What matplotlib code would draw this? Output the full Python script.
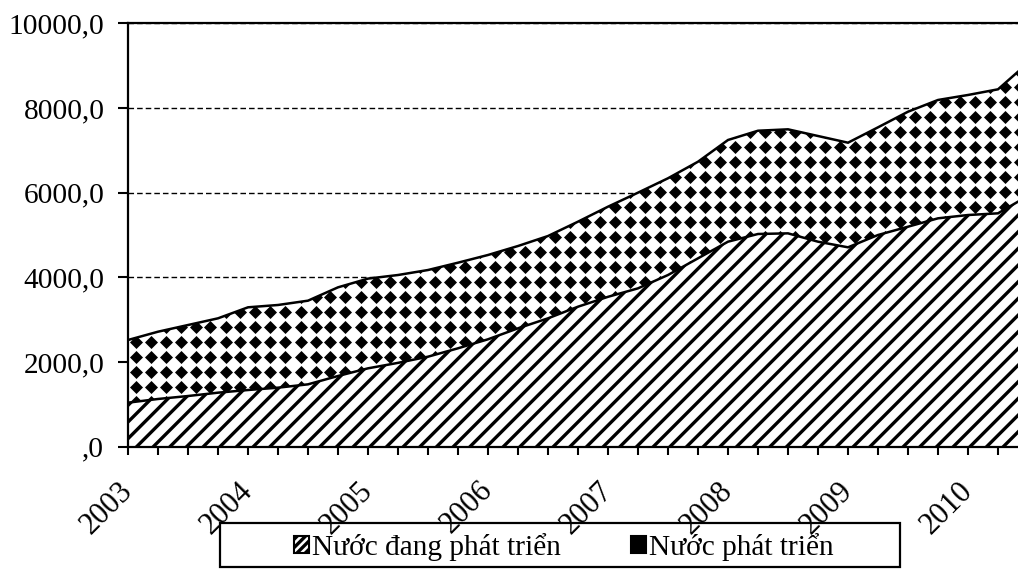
import numpy as np
import matplotlib
matplotlib.use("Agg")
import matplotlib.pyplot as plt
from matplotlib.patches import Patch, Rectangle
from matplotlib.ticker import FuncFormatter, MultipleLocator

# ---- data (quarterly, 2003Q1 .. 2010Q3) ----
years = ['2003', '2004', '2005', '2006', '2007', '2008', '2009', '2010']
developing = [1040, 1127, 1197, 1276, 1339, 1394, 1473, 1670,
              1851, 1980, 2126, 2324, 2537, 2796, 3032, 3307,
              3540, 3740, 4055, 4449, 4842, 5024, 5039, 4842,
              4709, 5000, 5196, 5394, 5472, 5512, 5925]
developed = [1480, 1589, 1677, 1756, 1953, 1953, 1976, 2094,
             2119, 2075, 2047, 2022, 1991, 1944, 1944, 2008,
             2129, 2260, 2285, 2282, 2402, 2439, 2457, 2496,
             2471, 2543, 2716, 2795, 2835, 2929, 3140]
series_names = ['Nước đang phát triển', 'Nước phát triển']
yticks = [0, 2000, 4000, 6000, 8000, 10000]

plt.rcParams['font.family'] = ['Liberation Serif', 'DejaVu Serif']
plt.rcParams['hatch.linewidth'] = 2.4
FS = 21.2

W, H = 1018, 569
fig = plt.figure(figsize=(W / 100, H / 100), dpi=100)
ax_l, ax_r, ax_t, ax_b = 128, 1028, 23.3, 446.7
ax = fig.add_axes([ax_l / W, (H - ax_b) / H, (ax_r - ax_l) / W, (ax_b - ax_t) / H])

x = np.arange(len(developing))
dev = np.array(developing, dtype=float)
total = dev + np.array(developed, dtype=float)

# bottom series: diagonal stripes
ax.fill_between(x, 0, dev, facecolor='white', edgecolor='black', hatch='//',
                linewidth=0, zorder=2)
# top series: white with diamond pattern
top_coll = ax.fill_between(x, dev, total, facecolor='white', edgecolor='none',
                           linewidth=0, zorder=2)
pw, ph = ax_r - ax_l, ax_b - ax_t
gx = (7.5 + 15 * np.arange(int(pw / 15) + 2)) / pw
gy = (15 * np.arange(int(ph / 15) + 2)) / ph
GX, GY = np.meshgrid(gx, gy)
sc = ax.scatter(GX.ravel(), GY.ravel(), marker='D', s=44, c='black',
                linewidths=0, transform=ax.transAxes, zorder=2.5)
sc.set_clip_path(top_coll.get_paths()[0], ax.transData)

ax.plot(x, dev, color='black', lw=1.8, zorder=3, solid_joinstyle='miter')
ax.plot(x, total, color='black', lw=1.8, zorder=3, solid_joinstyle='miter')

ax.set_xlim(0, 30)
ax.set_ylim(0, 10000)
ax.set_yticks(yticks)
ax.yaxis.set_major_formatter(FuncFormatter(lambda v, _: ',0' if v == 0 else f'{int(v)},0'))
ax.set_xticks(np.arange(0, 4 * len(years), 4))
ax.set_xticklabels(years, rotation=45, ha='right', va='center', rotation_mode='anchor')
ax.xaxis.set_minor_locator(MultipleLocator(1))

ax.yaxis.grid(True, linestyle=(0, (4, 2.2)), color='black', lw=1.0)
ax.set_axisbelow(True)

for s in ['left', 'bottom', 'top']:
    ax.spines[s].set_linewidth(1.6)
    ax.spines[s].set_color('black')
ax.spines['right'].set_visible(False)

ax.tick_params(axis='y', which='major', direction='out', length=7, width=1.5,
               labelsize=FS, pad=10)
ax.tick_params(axis='x', which='both', direction='out', length=5.5, width=1.5,
               labelsize=22, pad=23)

# legend
h1 = Patch(facecolor='white', edgecolor='black', hatch='////', linewidth=1.5)
h2 = Patch(facecolor='black', edgecolor='black', hatch='xx', linewidth=1.5)
leg = fig.legend([h1, h2], series_names, loc='center',
                 bbox_to_anchor=(564 / W, 1 - 547 / H), bbox_transform=fig.transFigure,
                 ncol=2, frameon=False, fontsize=FS, handlelength=0.5,
                 handleheight=0.5, handletextpad=0.1, columnspacing=2.4,
                 borderpad=0, borderaxespad=0)
box = Rectangle((220 / W, (H - 567) / H), 680 / W, 44 / H, transform=fig.transFigure,
                facecolor='none', edgecolor='black', lw=1.6, zorder=5)
fig.patches.append(box)

fig.savefig('out.png', dpi=100)
